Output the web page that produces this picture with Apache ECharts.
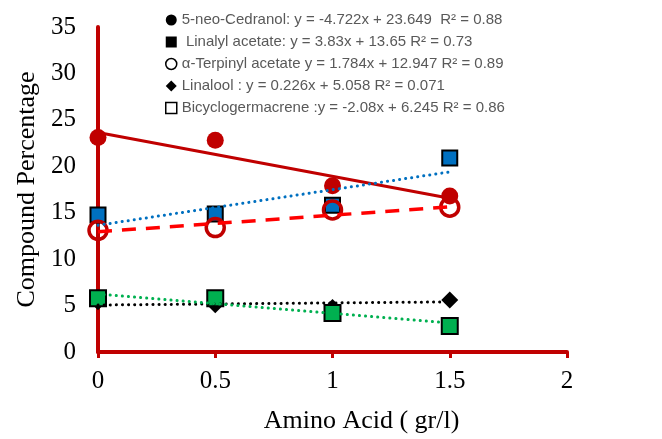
<!DOCTYPE html>
<html><head><meta charset="utf-8">
<script src="https://cdn.jsdelivr.net/npm/echarts@6/dist/echarts.min.js"></script>
<style>html,body{margin:0;padding:0;background:#fff}#c{width:662px;height:439px}</style>
</head><body><div id="c"></div>
<script>
const xValues = [0, 0.5, 1, 1.5];
const seriesNames = ['5-neo-Cedranol', 'Linalyl acetate', 'α-Terpinyl acetate', 'Linalool', 'Bicyclogermacrene'];
const cedranol = [23.1, 22.8, 17.9, 16.8];
const linalylAcetate = [14.75, 14.85, 15.8, 20.9];
const terpinylAcetate = [13.1, 13.4, 15.3, 15.6];
const linalool = [5.4, 5.1, 4.8, 5.6];
const bicyclogermacrene = [5.8, 5.8, 4.2, 2.8];
const slopes = [-4.722, 3.83, 1.784, 0.226, -2.08];
const intercepts = [23.649, 13.65, 12.947, 5.058, 6.245];
const legendLabels = [
  '5-neo-Cedranol: y = -4.722x + 23.649  R² = 0.88',
  ' Linalyl acetate: y = 3.83x + 13.65 R² = 0.73',
  'α-Terpinyl acetate y = 1.784x + 12.947 R² = 0.89',
  'Linalool : y = 0.226x + 5.058 R² = 0.071',
  'Bicyclogermacrene :y = -2.08x + 6.245 R² = 0.86'
];
const xTicks = [0, 0.5, 1, 1.5, 2];
const yTicks = [0, 5, 10, 15, 20, 25, 30, 35];
const trendRange = [0, 1.5];

const values = [cedranol, linalylAcetate, terpinylAcetate, linalool, bicyclogermacrene];
const markerStyles = [
  {symbol: 'circle', symbolSize: 17, itemStyle: {color: '#C00000', borderWidth: 0, opacity: 1}},
  {symbol: 'rect', symbolSize: 15, itemStyle: {color: '#0070C0', borderColor: '#000', borderWidth: 2, opacity: 1}},
  {symbol: 'circle', symbolSize: 18, itemStyle: {color: 'rgba(255,255,255,0)', borderColor: '#C00000', borderWidth: 3.5, opacity: 1}},
  {symbol: 'diamond', symbolSize: 17, itemStyle: {color: '#000', borderWidth: 0, opacity: 1}},
  {symbol: 'rect', symbolSize: 16, itemStyle: {color: '#00B050', borderColor: '#000', borderWidth: 2, opacity: 1}}
];
const trendStyles = [
  {color: '#C00000', width: 3, type: 'solid'},
  {color: '#0070C0', width: 3, type: [0.1, 6], cap: 'round'},
  {color: '#FF0000', width: 3.5, type: [14, 10]},
  {color: '#000', width: 3, type: [0.1, 6], cap: 'round'},
  {color: '#00B050', width: 3, type: [0.1, 6], cap: 'round'}
];
const legendIcons = [
  {icon: 'circle', itemStyle: {color: '#000', borderWidth: 0}},
  {icon: 'rect', itemStyle: {color: '#000', borderWidth: 0}},
  {icon: 'circle', itemStyle: {color: '#fff', borderColor: '#000', borderWidth: 1.5}},
  {icon: 'diamond', itemStyle: {color: '#000', borderWidth: 0}},
  {icon: 'rect', itemStyle: {color: '#fff', borderColor: '#000', borderWidth: 1.5}}
];

const series = [];
values.forEach((vals, i) => {
  series.push(Object.assign({
    name: legendLabels[i],
    type: 'scatter',
    z: 3,
    emphasis: {disabled: true},
    data: xValues.map((x, j) => [x, vals[j]])
  }, markerStyles[i]));
});
values.forEach((vals, i) => {
  const ls = trendStyles[i];
  series.push({
    name: seriesNames[i] + ' trend',
    type: 'line',
    z: 4,
    symbol: 'none',
    silent: true,
    lineStyle: {color: ls.color, width: ls.width, type: ls.type, cap: ls.cap || 'butt'},
    data: trendRange.map(x => [x, slopes[i] * x + intercepts[i]])
  });
});

const chart = echarts.init(document.getElementById('c'), null, {renderer: 'canvas'});
chart.setOption({
  animation: false,
  backgroundColor: '#fff',
  grid: {left: 98, right: 95, top: 27, bottom: 87, containLabel: false},
  legend: {
    orient: 'vertical',
    left: 160, top: 6,
    itemWidth: 11, itemHeight: 11, itemGap: 4,
    textStyle: {fontFamily: 'Liberation Sans', fontSize: 15, color: '#595959', lineHeight: 18},
    data: legendLabels.map((n, i) => Object.assign({name: n}, legendIcons[i]))
  },
  xAxis: {
    type: 'value', min: 0, max: 2, interval: 0.5,
    name: 'Amino Acid ( gr/l)', nameLocation: 'middle', nameGap: 56,
    nameTextStyle: {fontFamily: 'Liberation Serif', fontSize: 26, color: '#000', padding: [0, 0, 0, 58]},
    axisLine: {lineStyle: {color: '#C00000', width: 4}},
    axisTick: {show: true, length: 6, lineStyle: {color: '#C00000', width: 3}},
    axisLabel: {fontFamily: 'Liberation Serif', fontSize: 25, color: '#000', margin: 17},
    splitLine: {show: false}
  },
  yAxis: {
    type: 'value', min: 0, max: 35, interval: 5,
    name: 'Compound Percentage', nameLocation: 'middle', nameGap: 58,
    nameTextStyle: {fontFamily: 'Liberation Serif', fontSize: 26, color: '#000'},
    axisLine: {show: true, lineStyle: {color: '#C00000', width: 4}},
    axisTick: {show: false},
    axisLabel: {fontFamily: 'Liberation Serif', fontSize: 25, color: '#000', margin: 22},
    splitLine: {show: false}
  },
  series: series
});
</script>
</body></html>
